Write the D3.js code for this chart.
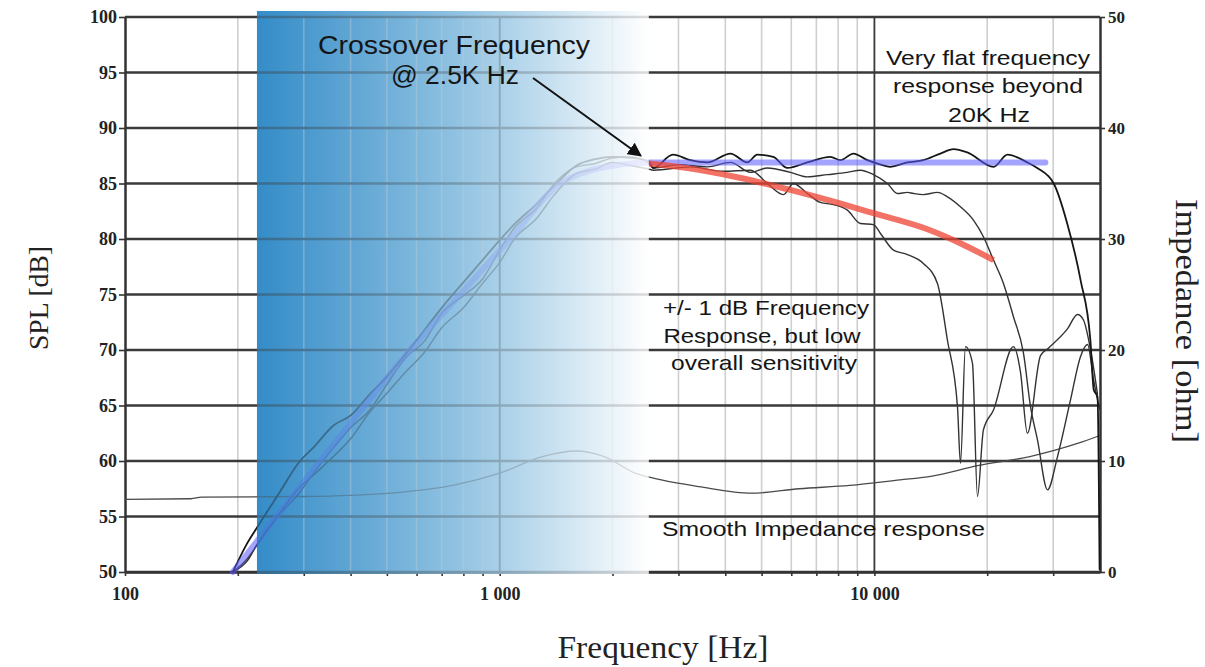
<!DOCTYPE html>
<html><head><meta charset="utf-8">
<script src="https://cdn.jsdelivr.net/npm/d3@7"></script>
<style>body{margin:0;background:#fff}svg{display:block}</style>
</head><body>
<svg id="chart" width="1205" height="667"></svg>
<script>
// ---------- data ----------
const splTicks = [50, 55, 60, 65, 70, 75, 80, 85, 90, 95, 100];
const impTicks = [0, 10, 20, 30, 40, 50];
const freqLabelTicks = [100, 1000, 10000];
const freqLabelText = ["100", "1 000", "10 000"];
const minorFreqs = [200, 300, 400, 500, 600, 700, 800, 900, 2000, 3000, 4000, 5000, 6000, 7000, 8000, 9000, 20000, 30000];
const majorFreqs = [1000, 10000];
const shadeRange = [225, 2500];

// rising part (shared frequencies)
const riseFreq = [194, 212, 226, 260, 290, 320, 360, 400, 450, 500, 560, 630, 700, 800, 900, 1000, 1100, 1250, 1400, 1600, 1800, 2000, 2250, 2500];
const riseA = [50.0, 52.6, 54.1, 57.3, 59.8, 61.3, 63.2, 64.1, 66.0, 67.6, 69.6, 71.8, 73.8, 76.1, 78.1, 79.9, 81.4, 83.1, 84.8, 86.6, 87.2, 87.4, 87.3, 87.0];
const riseB = [50.0, 51.2, 52.5, 55.3, 57.0, 59.0, 61.2, 63.0, 64.6, 66.9, 69.3, 70.8, 73.3, 74.9, 76.4, 79.0, 81.1, 82.7, 85.0, 86.5, 86.8, 87.3, 87.4, 86.8];
const riseC = [50.0, 51.0, 52.6, 55.4, 57.5, 58.8, 60.4, 62.0, 64.4, 66.1, 68.0, 69.8, 72.0, 73.8, 76.0, 77.9, 80.1, 81.8, 84.0, 85.9, 86.3, 86.9, 86.6, 86.3];

// high-frequency part
const highAFreq = [2570, 2900, 3230, 3580, 4130, 4580, 4870, 5370, 5860, 6620, 7630, 8110, 8790, 9580, 10400, 11000, 12250, 13500, 15000, 16250, 17700, 20800, 22650, 25600, 27200, 30100, 32700, 35500, 37700, 38500, 39400, 39900];
const highA = [86.4, 87.6, 87.1, 86.9, 87.7, 86.9, 87.6, 87.4, 86.4, 86.9, 87.4, 87.1, 87.7, 87.1, 86.7, 86.5, 86.9, 87.1, 87.7, 88.1, 87.8, 86.5, 87.6, 86.9, 86.4, 85.0, 81.4, 76.3, 70.9, 66.4, 65.8, 50.2];
const highBFreq = [2570, 3030, 3580, 4130, 4670, 5180, 5970, 6620, 7490, 8470, 9180, 9940, 10830, 11520, 12250, 12710, 13510, 14730, 15660, 16970, 18380, 19540, 20790, 22100, 23500, 25000, 26100, 27240, 28970, 30810, 33370, 35480, 37050, 38460, 39400, 40000];
const highB = [86.4, 86.7, 86.5, 86.9, 86.0, 86.4, 86.0, 85.6, 85.8, 86.0, 86.2, 85.8, 85.0, 84.1, 84.2, 84.1, 84.0, 84.2, 83.8, 82.9, 81.7, 80.2, 78.1, 76.0, 73.0, 69.7, 64.9, 61.9, 57.4, 60.4, 65.5, 69.4, 70.5, 67.3, 65.5, 64.6];
const highCFreq = [2570, 3230, 3950, 4670, 5180, 5715, 6080, 6620, 7175, 7770, 8470, 9175, 9940, 10380, 11240, 12250, 13510, 14730, 15660, 16660, 16970, 17500, 18270, 18840, 19540, 20790, 23500, 24540, 25600, 27750, 28970, 32750, 34840, 36140, 37750, 39400];
const highC = [86.2, 86.5, 86.1, 86.2, 85.0, 84.0, 85.0, 84.1, 83.3, 83.1, 82.6, 81.4, 81.3, 80.5, 79.0, 78.6, 77.8, 76.0, 70.9, 64.9, 59.8, 70.3, 68.8, 56.8, 62.8, 64.6, 70.3, 68.0, 62.5, 69.5, 70.1, 71.9, 73.2, 72.7, 70.0, 66.0];

// target lines
const flatFreq = [194, 320, 424, 577, 784, 1066, 1450, 1713, 2100, 2500, 28600];
const flatDb = [50, 59.3, 64.5, 70, 75, 80, 85, 86.1, 86.7, 86.9, 86.9];
const rollFreq = [2500, 3000, 4400, 6000, 8100, 10000, 13800, 17000, 20800];
const rollDb = [86.8, 86.5, 85.5, 84.4, 83.2, 82.3, 80.9, 79.6, 78.1];

// impedance
const impFreq = [100, 150, 160, 300, 400, 550, 750, 1000, 1300, 1600, 1900, 2300, 2700, 3400, 4700, 6300, 8600, 11700, 14000, 19000, 26000, 35000, 40000];
const impOhm = [6.55, 6.6, 6.75, 6.8, 6.9, 7.2, 7.8, 8.9, 10.4, 10.9, 10.4, 8.9, 8.3, 7.7, 7.1, 7.5, 7.8, 8.3, 8.6, 9.6, 10.4, 11.6, 12.3];

// ---------- scales ----------
const svg = d3.select("#chart");
const x = d3.scaleLog().domain([100, 40000]).range([125, 1100]);
const y = d3.scaleLinear().domain([50, 100]).range([572, 17]);
const yImp = d3.scaleLinear().domain([0, 50]).range([572, 17]);
const [X0, X1] = x.range();
const [Y0, Y1] = [y(50), y(100)];

const pairs = (f, v) => f.map((d, i) => [d, v[i]]);
const line = d3.line().x(d => x(d[0])).y(d => y(d[1])).curve(d3.curveMonotoneX);
const lineImp = d3.line().x(d => x(d[0])).y(d => yImp(d[1])).curve(d3.curveMonotoneX);

// ---------- defs ----------
const defs = svg.append("defs");
const bg = defs.append("linearGradient").attr("id", "bgGrad").attr("x1", 0).attr("x2", 1).attr("y1", 0).attr("y2", 0);
bg.append("stop").attr("offset", 0).attr("stop-color", "rgb(52,140,200)");
bg.append("stop").attr("offset", 0.5).attr("stop-color", "rgb(142,193,225)");
bg.append("stop").attr("offset", 1).attr("stop-color", "#ffffff");
const ov = defs.append("linearGradient").attr("id", "ovGrad").attr("x1", 0).attr("x2", 1).attr("y1", 0).attr("y2", 0);
ov.append("stop").attr("offset", 0).attr("stop-color", "rgb(52,140,200)").attr("stop-opacity", 0.6);
ov.append("stop").attr("offset", 0.5).attr("stop-color", "rgb(142,193,225)").attr("stop-opacity", 0.7);
ov.append("stop").attr("offset", 1).attr("stop-color", "#ffffff").attr("stop-opacity", 0.82);
defs.append("marker").attr("id", "arrow").attr("viewBox", "0 0 10 10").attr("refX", 9).attr("refY", 5)
  .attr("markerWidth", 7).attr("markerHeight", 7).attr("orient", "auto-start-reverse")
  .append("path").attr("d", "M0,0 L10,5 L0,10 z").attr("fill", "#111");

// ---------- background shade ----------
const sx = x(shadeRange[0]), sw = x(shadeRange[1]) - x(shadeRange[0]);
svg.append("rect").attr("x", sx).attr("y", Y1 - 6).attr("width", sw).attr("height", Y0 - Y1 + 8).attr("fill", "url(#bgGrad)");

// ---------- grid ----------
const grid = svg.append("g");
grid.selectAll(".vminor").data(minorFreqs).join("line")
  .attr("x1", d => x(d)).attr("x2", d => x(d)).attr("y1", Y1).attr("y2", Y0)
  .attr("stroke", "#cfcfcf").attr("stroke-width", 1.6);
grid.selectAll(".vmajor").data(majorFreqs).join("line")
  .attr("x1", d => x(d)).attr("x2", d => x(d)).attr("y1", Y1).attr("y2", Y0)
  .attr("stroke", "#3a3a3a").attr("stroke-width", 1.8);
grid.selectAll(".h").data(splTicks).join("line")
  .attr("x1", X0).attr("x2", X1).attr("y1", d => y(d)).attr("y2", d => y(d))
  .attr("stroke", "#3a3a3a").attr("stroke-width", 2.4);

// ---------- axes ----------
const serif = "'Liberation Serif','Times New Roman',serif";
const left = svg.append("g").attr("transform", `translate(${X0},0)`)
  .call(d3.axisLeft(y).tickValues(splTicks).tickSize(6).tickSizeOuter(0).tickPadding(2));
const right = svg.append("g").attr("transform", `translate(${X1},0)`)
  .call(d3.axisRight(yImp).tickValues(impTicks).tickSize(5).tickSizeOuter(0).tickPadding(3));
const labelMap = new Map(freqLabelTicks.map((d, i) => [d, freqLabelText[i]]));
const bottom = svg.append("g").attr("transform", `translate(0,${Y0})`)
  .call(d3.axisBottom(x).tickValues([100].concat(minorFreqs, majorFreqs)).tickSize(4).tickSizeOuter(0).tickPadding(11)
    .tickFormat(d => labelMap.get(d) || ""));
[left, right, bottom].forEach(g => {
  g.select(".domain").attr("stroke", "#333").attr("stroke-width", 2.5);
  g.selectAll(".tick line").attr("stroke", "#333").attr("stroke-width", 1.6);
  g.selectAll("text").attr("font-family", serif).attr("font-weight", "bold").attr("fill", "#222");
});
left.selectAll("text").attr("font-size", 18);
right.selectAll("text").attr("font-size", 17);
bottom.selectAll("text").attr("font-size", 18);

// ---------- curves ----------
const curves = svg.append("g").attr("fill", "none");
curves.append("path").attr("d", lineImp(pairs(impFreq, impOhm))).attr("stroke", "#4a4a4a").attr("stroke-width", 1.3);
curves.append("path").attr("d", line(pairs(riseFreq, riseC).concat(pairs(highCFreq, highC))))
  .attr("stroke", "#333").attr("stroke-width", 1.4);
curves.append("path").attr("d", line(pairs(riseFreq, riseB).concat(pairs(highBFreq, highB))))
  .attr("stroke", "#333").attr("stroke-width", 1.4);
curves.append("path").attr("d", line(pairs(riseFreq, riseA).concat(pairs(highAFreq, highA))))
  .attr("stroke", "#161616").attr("stroke-width", 1.8);
curves.append("path").attr("d", line(pairs(flatFreq, flatDb)))
  .attr("stroke", "#5a5aff").attr("stroke-opacity", 0.55).attr("stroke-width", 6).attr("stroke-linecap", "round");
curves.append("path").attr("d", line(pairs(rollFreq, rollDb)))
  .attr("stroke", "#ee4433").attr("stroke-opacity", 0.75).attr("stroke-width", 6);

// ---------- overlay shade ----------
svg.append("rect").attr("x", sx).attr("y", Y1 - 6).attr("width", sw).attr("height", Y0 - Y1 + 8).attr("fill", "url(#ovGrad)");

// ---------- axis titles ----------
svg.append("text").attr("transform", "translate(48,298) rotate(-90)").attr("text-anchor", "middle")
  .attr("font-family", serif).attr("font-size", 27).attr("fill", "#222")
  .attr("textLength", 104).attr("lengthAdjust", "spacingAndGlyphs").text("SPL [dB]");
svg.append("text").attr("transform", "translate(1176,321) rotate(90)").attr("text-anchor", "middle")
  .attr("font-family", serif).attr("font-size", 32).attr("fill", "#222")
  .attr("textLength", 244).attr("lengthAdjust", "spacingAndGlyphs").text("Impedance [ohm]");
svg.append("text").attr("x", 663).attr("y", 658).attr("text-anchor", "middle")
  .attr("font-family", serif).attr("font-size", 32).attr("fill", "#222")
  .attr("textLength", 211).attr("lengthAdjust", "spacingAndGlyphs").text("Frequency [Hz]");

// ---------- annotations ----------
const sans = "'Liberation Sans',Arial,Helvetica,sans-serif";
const notes = [
  {t: "Crossover Frequency", x: 454, y: 54, s: 25, w: 272, a: "middle"},
  {t: "@ 2.5K Hz", x: 455, y: 84, s: 25, w: 128, a: "middle"},
  {t: "Very flat frequency", x: 988, y: 65, s: 21, w: 204, a: "middle"},
  {t: "response beyond", x: 988, y: 93, s: 21, w: 190, a: "middle"},
  {t: "20K Hz", x: 989, y: 122, s: 21, w: 82, a: "middle"},
  {t: "+/- 1 dB Frequency", x: 766, y: 315, s: 21, w: 206, a: "middle"},
  {t: "Response, but low", x: 762, y: 343, s: 21, w: 197, a: "middle"},
  {t: "overall sensitivity", x: 764, y: 370, s: 21, w: 186, a: "middle"},
  {t: "Smooth Impedance response", x: 662, y: 536, s: 21, w: 323, a: "start"}
];
svg.append("g").selectAll("text").data(notes).join("text")
  .attr("x", d => d.x).attr("y", d => d.y).attr("text-anchor", d => d.a)
  .attr("font-family", sans).attr("font-size", d => d.s).attr("fill", "#151515")
  .attr("textLength", d => d.w).attr("lengthAdjust", "spacingAndGlyphs").text(d => d.t);

svg.append("line").attr("x1", 533).attr("y1", 78).attr("x2", x(2380)).attr("y2", y(87.5))
  .attr("stroke", "#111").attr("stroke-width", 2).attr("marker-end", "url(#arrow)");
</script>
</body></html>
